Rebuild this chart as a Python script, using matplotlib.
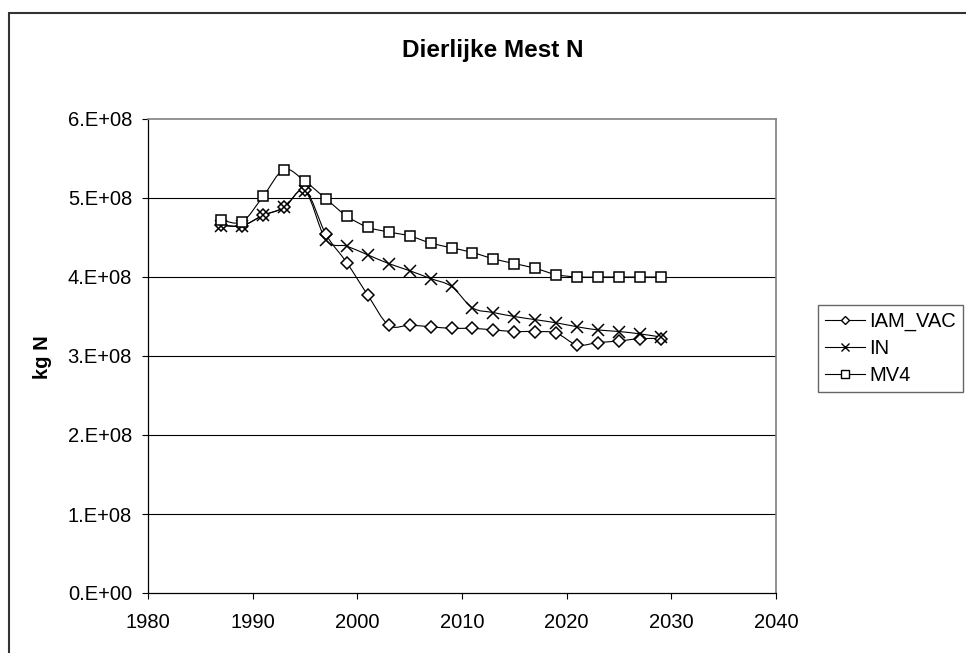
import numpy as np
import matplotlib.pyplot as plt
from matplotlib.path import Path
from matplotlib.patches import PathPatch, Rectangle
from matplotlib.lines import Line2D

plt.rcParams['font.family'] = ['Liberation Sans', 'DejaVu Sans']

# jaren (om de twee jaar)
years = [1987, 1989, 1991, 1993, 1995, 1997, 1999, 2001, 2003, 2005, 2007,
         2009, 2011, 2013, 2015, 2017, 2019, 2021, 2023, 2025, 2027, 2029]

# kg N per scenario
iam_vac = [4.66e8, 4.65e8, 4.78e8, 4.88e8, 5.10e8, 4.54e8, 4.18e8, 3.77e8,
           3.39e8, 3.39e8, 3.37e8, 3.35e8, 3.35e8, 3.33e8, 3.31e8, 3.31e8,
           3.29e8, 3.14e8, 3.17e8, 3.19e8, 3.22e8, 3.22e8]
in_scen = [4.65e8, 4.65e8, 4.78e8, 4.88e8, 5.09e8, 4.47e8, 4.39e8, 4.28e8,
           4.17e8, 4.08e8, 3.98e8, 3.88e8, 3.61e8, 3.55e8, 3.50e8, 3.46e8,
           3.42e8, 3.37e8, 3.33e8, 3.31e8, 3.28e8, 3.24e8]
mv4 = [4.72e8, 4.70e8, 5.02e8, 5.36e8, 5.21e8, 4.99e8, 4.77e8, 4.63e8,
       4.57e8, 4.52e8, 4.43e8, 4.37e8, 4.31e8, 4.23e8, 4.17e8, 4.11e8,
       4.03e8, 4.00e8, 4.00e8, 4.00e8, 4.00e8, 4.00e8]

series = [('IAM_VAC', iam_vac, 'D', 6),
          ('IN', in_scen, 'x', 8),
          ('MV4', mv4, 's', 7)]

xticks = [1980, 1990, 2000, 2010, 2020, 2030, 2040]
yticks = [0, 1e8, 2e8, 3e8, 4e8, 5e8, 6e8]
ytick_labels = ['0.E+00', '1.E+08', '2.E+08', '3.E+08', '4.E+08', '5.E+08', '6.E+08']


def smooth_path(x, y, t=1 / 6):
    # bezier-curve door de punten (zoals een afgevlakte lijn)
    x = np.asarray(x, float)
    y = np.asarray(y, float)
    verts = [(x[0], y[0])]
    codes = [Path.MOVETO]
    n = len(x)
    for i in range(n - 1):
        p0 = i - 1 if i > 0 else i
        p3 = i + 2 if i + 2 < n else i + 1
        c1 = (x[i] + (x[i + 1] - x[p0]) * t, y[i] + (y[i + 1] - y[p0]) * t)
        c2 = (x[i + 1] - (x[p3] - x[i]) * t, y[i + 1] - (y[p3] - y[i]) * t)
        verts += [c1, c2, (x[i + 1], y[i + 1])]
        codes += [Path.CURVE4] * 3
    return Path(verts, codes)


fig = plt.figure(figsize=(9.66, 6.53), dpi=100)
ax = fig.add_axes([148 / 966, 1 - 593 / 653, 628 / 966, 474 / 653])

for yv in yticks[1:-1]:
    ax.axhline(yv, color='black', lw=0.8, zorder=1)

handles = []
for name, vals, marker, ms in series:
    ax.add_patch(PathPatch(smooth_path(years, vals), fill=False,
                           edgecolor='black', lw=0.8, zorder=2))
    ax.plot(years, vals, linestyle='none', marker=marker, ms=ms,
            mfc='white' if marker != 'x' else 'black', mec='black',
            mew=1.1, zorder=3)
    handles.append(Line2D([], [], color='black', lw=0.8, marker=marker,
                          ms=ms * 0.75, mfc='white', mec='black', mew=1.0,
                          label=name))

ax.set_xlim(1980, 2040)
ax.set_ylim(0, 6e8)
ax.set_xticks(xticks)
ax.set_yticks(yticks)
ax.set_yticklabels(ytick_labels)
ax.tick_params(direction='out', length=4.5, width=0.8, labelsize=14.5, pad=7,
               colors='black')
ax.tick_params(axis='x', pad=10)
for s in ['top', 'right']:
    ax.spines[s].set_color('#808080')
    ax.spines[s].set_linewidth(1.2)
for s in ['left', 'bottom']:
    ax.spines[s].set_color('black')
    ax.spines[s].set_linewidth(0.9)

fig.text(493 / 966, 1 - 50 / 653, 'Dierlijke Mest N', ha='center',
         va='center', fontsize=17.5, fontweight='bold')
fig.text(43 / 966, 1 - 357 / 653, 'kg N', ha='center', va='center',
         rotation=90, fontsize=14.5, fontweight='bold')

leg = fig.legend(handles=handles, loc='upper left',
                 bbox_to_anchor=(818 / 966, 1 - 305 / 653),
                 bbox_transform=fig.transFigure, fontsize=14.5,
                 frameon=True, fancybox=False, borderpad=0.35,
                 handlelength=2.0, handletextpad=0.2, labelspacing=0.38,
                 borderaxespad=0)
leg.get_frame().set_edgecolor('#404040')
leg.get_frame().set_linewidth(1.0)

# buitenrand van de grafiek
fig.patches.append(Rectangle((9 / 966, -0.1), 1.2, 1.1 - 13 / 653,
                             transform=fig.transFigure, fill=False,
                             edgecolor='#333333', lw=1.5))

fig.savefig('out.png', dpi=100)
